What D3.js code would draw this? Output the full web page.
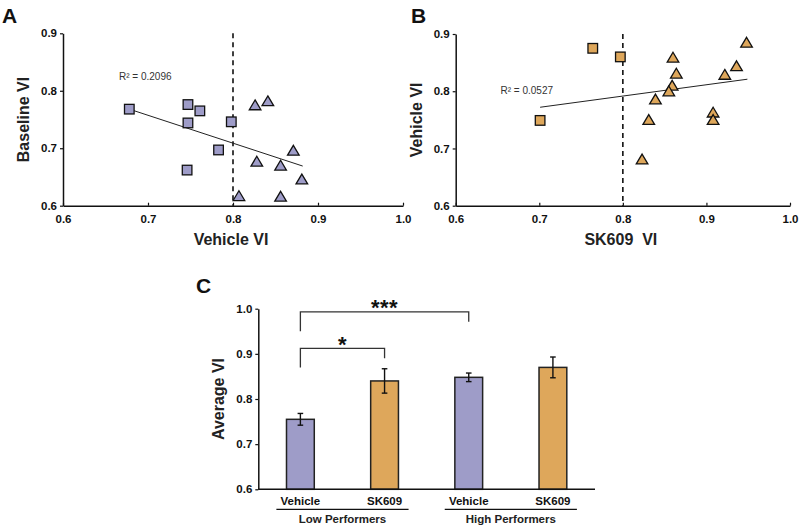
<!DOCTYPE html>
<html><head><meta charset="utf-8">
<script src="https://cdn.jsdelivr.net/npm/d3@7"></script>
<style>body{margin:0;background:#fff}svg{display:block}text{font-family:"Liberation Sans",Arial,sans-serif}</style>
</head><body><svg id="c" width="800" height="526"></svg>
<script>
// ---- Panel A data (Vehicle VI vs Baseline VI) ----
const aLowX  = [0.678, 0.747, 0.761, 0.747, 0.798, 0.783, 0.746];
const aLowY  = [0.768, 0.776, 0.765, 0.744, 0.746, 0.697, 0.662];
const aHighX = [0.826, 0.841, 0.871, 0.828, 0.856, 0.881, 0.807, 0.856];
const aHighY = [0.775, 0.782, 0.696, 0.677, 0.670, 0.646, 0.617, 0.616];
const aTrend = [[0.678, 0.768], [0.882, 0.669]];
const aR2 = "R\u00b2 = 0.2096";
// ---- Panel B data (SK609 VI vs Vehicle VI) ----
const bLowX  = [0.764, 0.797, 0.701];
const bLowY  = [0.875, 0.860, 0.749];
const bHighX = [0.860, 0.948, 0.936, 0.922, 0.864, 0.859, 0.855, 0.839, 0.831, 0.823, 0.908, 0.908];
const bHighY = [0.859, 0.885, 0.844, 0.829, 0.831, 0.810, 0.800, 0.786, 0.750, 0.681, 0.763, 0.750];
const bTrend = [[0.701, 0.772], [0.949, 0.821]];
const bR2 = "R\u00b2 = 0.0527";
const cutoff = 0.8;
const scatterTicksX = [0.6, 0.7, 0.8, 0.9, 1.0];
const scatterTicksY = [0.6, 0.7, 0.8, 0.9];
// ---- Panel C data ----
const cCats = ["Vehicle", "SK609", "Vehicle ", "SK609 "];
const cVals = [0.755, 0.840, 0.848, 0.870];
const cErr  = [0.013, 0.027, 0.0095, 0.023];
const cGroups = ["Low Performers", "High Performers"];
const cTicksY = [0.6, 0.7, 0.8, 0.9, 1.0];
// significance brackets: [fromIndex, toIndex, top, leftDrop, rightDrop, label]
const cSig = [[0, 2, 0.993, 0.950, 0.971, "***"], [0, 1, 0.912, 0.870, 0.890, "*"]];

const PURPLE = "#9e9cc8", ORANGE = "#dea75b";
const svg = d3.select("#c");
const fmt = d3.format(".1f");

function scatter(opt) {
  const x = d3.scaleLinear().domain([0.6, 1.0]).range(opt.xr);
  const y = d3.scaleLinear().domain([0.6, 0.9]).range(opt.yr);
  const g = svg.append("g");
  const ax = g.append("g").attr("transform", `translate(0,${opt.yr[0]})`)
    .call(d3.axisBottom(x).tickValues(scatterTicksX).tickFormat(fmt).tickSizeInner(-3).tickSizeOuter(0).tickPadding(9));
  const ay = g.append("g").attr("transform", `translate(${opt.xr[0]},0)`)
    .call(d3.axisLeft(y).tickValues(scatterTicksY).tickFormat(fmt).tickSizeInner(3).tickSizeOuter(0).tickPadding(3));
  [ax, ay].forEach(a => {
    a.select(".domain").attr("stroke", "#111").attr("stroke-width", 1.5);
    a.selectAll(".tick line").attr("stroke", "#111").attr("stroke-width", 1.2);
    a.selectAll("text").attr("font-size", 11.5).attr("font-weight", "bold").attr("fill", "#111")
      .style("font-family", '"Liberation Sans",Arial,sans-serif');
  });
  ax.selectAll("text").attr("dy", "0.71em");
  g.append("line").attr("x1", x(cutoff)).attr("x2", x(cutoff)).attr("y1", y(0.9)).attr("y2", y(0.6))
    .attr("stroke", "#111").attr("stroke-width", 1.6).attr("stroke-dasharray", "5,4");
  g.append("line").attr("x1", x(opt.trend[0][0])).attr("y1", y(opt.trend[0][1]))
    .attr("x2", x(opt.trend[1][0])).attr("y2", y(opt.trend[1][1]))
    .attr("stroke", "#222").attr("stroke-width", 1);
  g.selectAll(".sq").data(opt.lx.map((v, i) => [v, opt.ly[i]])).join("rect")
    .attr("x", d => x(d[0]) - 4.8).attr("y", d => y(d[1]) - 4.8)
    .attr("width", 9.6).attr("height", 9.6)
    .attr("fill", opt.color).attr("stroke", "#111").attr("stroke-width", 1.3);
  g.selectAll(".tri").data(opt.hx.map((v, i) => [v, opt.hy[i]])).join("path")
    .attr("transform", d => `translate(${x(d[0])},${y(d[1])})`)
    .attr("d", "M0,-5.2L5.8,4.6L-5.8,4.6Z")
    .attr("fill", opt.color).attr("stroke", "#111").attr("stroke-width", 1.3).attr("stroke-linejoin", "miter");
  g.append("text").attr("x", opt.r2pos[0]).attr("y", opt.r2pos[1]).attr("font-size", 10)
    .attr("fill", "#333").text(opt.r2);
  g.append("text").attr("x", (opt.xr[0] + opt.xr[1]) / 2 - 2).attr("y", 245).attr("text-anchor", "middle")
    .attr("font-size", 16).attr("font-weight", "bold").attr("fill", "#222").text(opt.xlab);
  g.append("text").attr("transform", `translate(${opt.xr[0] - 34},${(opt.yr[0] + opt.yr[1]) / 2}) rotate(-90)`)
    .attr("text-anchor", "middle").attr("font-size", 16).attr("font-weight", "bold").attr("fill", "#222").text(opt.ylab);
  g.append("text").attr("x", opt.letter[0]).attr("y", opt.letter[1]).attr("font-size", 21)
    .attr("font-weight", "bold").attr("fill", "#111").text(opt.letter[2]);
}

scatter({xr: [63, 403], yr: [205.7, 33.3], lx: aLowX, ly: aLowY, hx: aHighX, hy: aHighY, trend: aTrend,
  color: PURPLE, r2: aR2, r2pos: [119, 80], xlab: "Vehicle VI", ylab: "Baseline VI", letter: [2, 23, "A"]});
scatter({xr: [455.7, 790], yr: [205.7, 34], lx: bLowX, ly: bLowY, hx: bHighX, hy: bHighY, trend: bTrend,
  color: ORANGE, r2: bR2, r2pos: [500.5, 94], xlab: "SK609\u00a0\u00a0VI", ylab: "Vehicle VI", letter: [411, 23, "B"]});

// ---- Panel C ----
(function () {
  const x = d3.scaleBand().domain(cCats).range([258.3, 595]).paddingInner(0.67).paddingOuter(0.335);
  const y = d3.scaleLinear().domain([0.6, 1.0]).range([489.3, 308.7]);
  const g = svg.append("g");
  const colors = [PURPLE, ORANGE, PURPLE, ORANGE];
  g.selectAll(".bar").data(cVals).join("rect")
    .attr("x", (d, i) => x(cCats[i])).attr("width", x.bandwidth())
    .attr("y", d => y(d)).attr("height", d => y(0.6) - y(d))
    .attr("fill", (d, i) => colors[i]).attr("stroke", "#222").attr("stroke-width", 1.5);
  cVals.forEach((v, i) => {
    const cx = x(cCats[i]) + x.bandwidth() / 2;
    const e = cErr[i];
    g.append("line").attr("x1", cx).attr("x2", cx).attr("y1", y(v + e)).attr("y2", y(v - e)).attr("stroke", "#111").attr("stroke-width", 1.4);
    [v + e, v - e].forEach(t => g.append("line").attr("x1", cx - 2.8).attr("x2", cx + 2.8).attr("y1", y(t)).attr("y2", y(t)).attr("stroke", "#111").attr("stroke-width", 1.4));
  });
  const ay = g.append("g").attr("transform", "translate(258.3,0)")
    .call(d3.axisLeft(y).tickValues(cTicksY).tickFormat(fmt).tickSizeInner(3).tickSizeOuter(0).tickPadding(3));
  ay.select(".domain").attr("stroke", "#111").attr("stroke-width", 1.5);
  ay.selectAll(".tick line").attr("stroke", "#111").attr("stroke-width", 1.2);
  ay.selectAll("text").attr("font-size", 11.5).attr("font-weight", "bold").attr("fill", "#111")
    .style("font-family", '"Liberation Sans",Arial,sans-serif');
  g.append("line").attr("x1", 258.3).attr("x2", 595).attr("y1", y(0.6)).attr("y2", y(0.6)).attr("stroke", "#111").attr("stroke-width", 1.5);
  cCats.forEach((c, i) => {
    g.append("text").attr("x", x(c) + x.bandwidth() / 2).attr("y", 505).attr("text-anchor", "middle")
      .attr("font-size", 11.5).attr("font-weight", "bold").attr("fill", "#111").text(c.trim());
  });
  cGroups.forEach((gname, k) => {
    const c1 = x(cCats[2 * k]) + x.bandwidth() / 2, c2 = x(cCats[2 * k + 1]) + x.bandwidth() / 2;
    g.append("line").attr("x1", c1 - 24).attr("x2", c2 + 24).attr("y1", 509.3).attr("y2", 509.3).attr("stroke", "#111").attr("stroke-width", 1.2);
    g.append("text").attr("x", (c1 + c2) / 2).attr("y", 523).attr("text-anchor", "middle")
      .attr("font-size", 11.5).attr("font-weight", "bold").attr("fill", "#222").text(gname);
  });
  cSig.forEach(s => {
    const x1 = x(cCats[s[0]]) + x.bandwidth() / 2, x2 = x(cCats[s[1]]) + x.bandwidth() / 2;
    g.append("path").attr("d", `M${x1},${y(s[3])}V${y(s[2])}H${x2}V${y(s[4])}`)
      .attr("fill", "none").attr("stroke", "#333").attr("stroke-width", 1.3);
    g.append("text").attr("x", (x1 + x2) / 2).attr("y", y(s[2]) + 3.5).attr("text-anchor", "middle")
      .attr("font-size", 22).attr("font-weight", "bold").attr("letter-spacing", 0.5).attr("fill", "#111").text(s[5]);
  });
  g.append("text").attr("transform", `translate(224,${(y(0.6) + y(1.0)) / 2}) rotate(-90)`)
    .attr("text-anchor", "middle").attr("font-size", 16).attr("font-weight", "bold").attr("fill", "#222").text("Average VI");
  g.append("text").attr("x", 196).attr("y", 293).attr("font-size", 21).attr("font-weight", "bold").attr("fill", "#111").text("C");
})();
</script></body></html>
